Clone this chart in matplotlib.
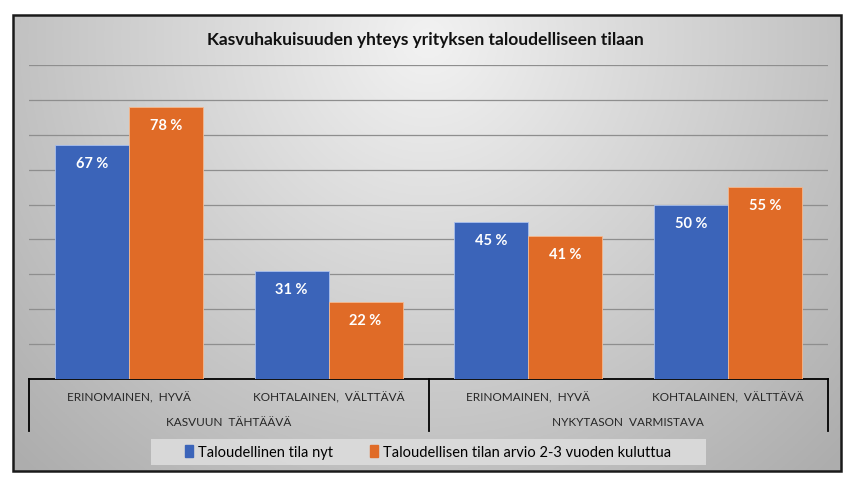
import numpy as np
import matplotlib
matplotlib.use("Agg")
import matplotlib.pyplot as plt
from matplotlib.patches import Rectangle, Patch
from matplotlib.lines import Line2D

# ---- data ----
subcategories = ["ERINOMAINEN,  HYVÄ", "KOHTALAINEN,  VÄLTTÄVÄ",
                 "ERINOMAINEN,  HYVÄ", "KOHTALAINEN,  VÄLTTÄVÄ"]
groups = ["KASVUUN  TÄHTÄÄVÄ", "NYKYTASON  VARMISTAVA"]
series_names = ["Taloudellinen tila nyt", "Taloudellisen tilan arvio 2-3 vuoden kuluttua"]
values_now = [67, 31, 45, 50]
values_future = [78, 22, 41, 55]
title = "Kasvuhakuisuuden yhteys yrityksen taloudelliseen tilaan"

plt.rcParams['font.family'] = ['Lato', 'DejaVu Sans']

W, H = 851, 481
fig = plt.figure(figsize=(W / 100, H / 100), dpi=100)
fig.patch.set_facecolor("white")

# background gradient box
bg = fig.add_axes([0, 0, 1, 1])
bg.set_xlim(0, W); bg.set_ylim(H, 0); bg.axis("off")
x0, x1, y0, y1 = 13, 841, 16, 472
yy, xx = np.mgrid[0:200, 0:400]
cx, cy = 200, 10
d = np.sqrt(((xx - cx) / 250.0) ** 2 + ((yy - cy) / 230.0) ** 2)
g = np.clip(0.95 - 0.24 * d, 0.68, 0.95)
img = np.dstack([g, g, g])
bg.imshow(img, extent=[x0, x1, y1, y0], aspect="auto", zorder=0)
bg.add_patch(Rectangle((x0, y0), x1 - x0, y1 - y0, fill=False, ec="#1a1a1a", lw=1.8, zorder=2))
# legend background
bg.add_patch(Rectangle((151, 440), 555, 26, fc="#dedede", ec="none", alpha=0.85, zorder=1))

# main axes
left, right, base, top = 29, 828, 380, 66
ax = fig.add_axes([left / W, 1 - base / H, (right - left) / W, (base - top) / H])
ax.patch.set_alpha(0)
ymax = 90
ax.set_ylim(0, ymax)
ax.set_xlim(-0.5, len(subcategories) - 0.5)
for s in ax.spines.values():
    s.set_visible(False)
ax.set_yticks(np.arange(10, ymax + 1, 10))
ax.yaxis.grid(True, color="#8e8e8e", lw=0.9)
ax.set_axisbelow(True)
ax.tick_params(left=False, labelleft=False, bottom=False, labelbottom=False)

x = np.arange(len(subcategories))
bw = 0.37
blue, orange = "#3b64b9", "#e06b27"
b1 = ax.bar(x - bw / 2, values_now, bw, color=blue, ec="#a9c0ee", lw=0.6, zorder=3)
b2 = ax.bar(x + bw / 2, values_future, bw, color=orange, ec="#f5b98f", lw=0.6, zorder=3)
for bars, vals in ((b1, values_now), (b2, values_future)):
    for r, v in zip(bars, vals):
        ax.annotate(f"{v} %", (r.get_x() + r.get_width() / 2, v), xytext=(0, -8),
                    textcoords="offset points", ha="center", va="top",
                    color="white", fontsize=10.5, fontweight="bold", zorder=4)

# category axis lines
trans = ax.get_xaxis_transform()
ax.add_line(Line2D([-0.5, 3.5], [0, 0], transform=trans, color="black", lw=1.3, clip_on=False))
depth = (432 - base) / (base - top)
for xv in (-0.5, 1.5, 3.5):
    ax.add_line(Line2D([xv, xv], [0, -depth], transform=trans, color="black", lw=1.3, clip_on=False))

sub_y = -(398 - base) / (base - top)
grp_y = -(423 - base) / (base - top)
for xi, lab in zip(x, subcategories):
    ax.text(xi, sub_y, lab, transform=trans, ha="center", va="center", fontsize=8.5, color="#262626")
for xi, lab in zip([0.5, 2.5], groups):
    ax.text(xi, grp_y, lab, transform=trans, ha="center", va="center", fontsize=8.5, color="#262626")

fig.text(0.5, 1 - 40 / H, title, ha="center", va="center", fontsize=12.5, fontweight="bold", color="#111111")

handles = [Patch(color=blue), Patch(color=orange)]
leg = fig.legend(handles, series_names, loc="center", bbox_to_anchor=(0.503, 1 - 453 / H), ncol=2,
                 frameon=False, fontsize=10.5, handlelength=0.55, handleheight=0.9,
                 handletextpad=0.3, columnspacing=2.6)

fig.savefig("out.png", dpi=100)
